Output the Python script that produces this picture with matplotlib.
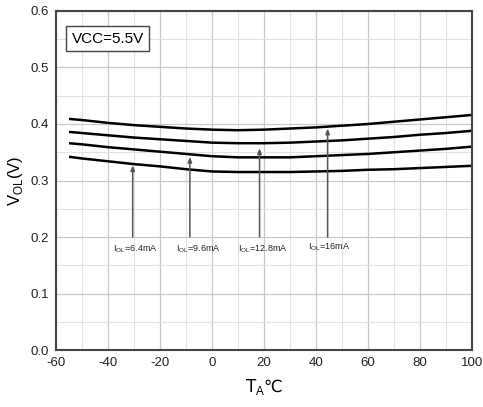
import matplotlib
matplotlib.use("Agg")
import matplotlib.pyplot as plt
from matplotlib.ticker import MultipleLocator

plt.rcParams['font.family'] = ['Liberation Sans', 'DejaVu Sans']
plt.rcParams['mathtext.fontset'] = 'custom'
plt.rcParams['mathtext.rm'] = 'Liberation Sans'
plt.rcParams['axes.unicode_minus'] = False

temps = [-55, -50, -40, -30, -20, -10, 0, 10, 20, 30, 40, 50, 60, 70, 80, 90, 100]
v_16 = [0.409, 0.407, 0.402, 0.398, 0.395, 0.392, 0.390, 0.389, 0.390, 0.392, 0.394, 0.397, 0.400, 0.404, 0.408, 0.412, 0.416]
v_128 = [0.386, 0.384, 0.380, 0.376, 0.373, 0.370, 0.367, 0.366, 0.366, 0.367, 0.369, 0.371, 0.374, 0.377, 0.381, 0.384, 0.388]
v_96 = [0.366, 0.364, 0.359, 0.355, 0.351, 0.347, 0.343, 0.341, 0.341, 0.341, 0.343, 0.345, 0.347, 0.350, 0.353, 0.356, 0.360]
v_64 = [0.342, 0.339, 0.334, 0.329, 0.325, 0.320, 0.316, 0.315, 0.315, 0.315, 0.316, 0.317, 0.319, 0.320, 0.322, 0.324, 0.326]

labels = ['6.4mA', '9.6mA', '12.8mA', '16mA']
arrow_x = [-30.5, -8.5, 18.3, 44.5]
arrow_tip = [0.327, 0.342, 0.357, 0.392]
label_x = [-38, -14, 10, 37]
label_y = [0.180, 0.180, 0.180, 0.182]

fig = plt.figure(figsize=(4.83, 4.07), dpi=100)
ax = fig.add_axes([0.116, 0.140, 0.861, 0.833])

for v in (v_16, v_128, v_96, v_64):
    ax.plot(temps, v, color='black', lw=1.8, solid_capstyle='butt')

for ax_x, tip, lab, lx, ly in zip(arrow_x, arrow_tip, labels, label_x, label_y):
    ax.annotate('', xy=(ax_x, tip), xytext=(ax_x, 0.2),
                arrowprops=dict(arrowstyle='-|>,head_width=0.12,head_length=0.3',
                                color='#555555', lw=1.1, shrinkA=0, shrinkB=0))
    ax.text(lx, ly, r'I$_{\mathrm{OL}}$=' + lab, fontsize=6.5, color='#222222',
            ha='left', va='center')

ax.set_xlim(-60, 100)
ax.set_ylim(0.0, 0.6)
ax.xaxis.set_major_locator(MultipleLocator(20))
ax.xaxis.set_minor_locator(MultipleLocator(10))
ax.yaxis.set_major_locator(MultipleLocator(0.1))
ax.yaxis.set_minor_locator(MultipleLocator(0.05))
ax.yaxis.set_major_formatter(plt.FuncFormatter(lambda v, p: f'{v:.1f}'))
ax.grid(which='major', color='#c8c8c8', lw=0.9)
ax.grid(which='minor', color='#e2e2e2', lw=0.8)
ax.set_axisbelow(True)
ax.tick_params(which='both', length=0, labelsize=9.5, pad=5, colors='#222222')
for s in ax.spines.values():
    s.set_color('#444444')
    s.set_linewidth(1.5)

ax.set_xlabel(r'T$_{\mathrm{A}}$℃', fontsize=12, labelpad=6, fontfamily='DejaVu Sans')
ax.set_ylabel(r'V$_{\mathrm{OL}}$(V)', fontsize=12, labelpad=4)

ax.text(-54, 0.551, 'VCC=5.5V', fontsize=11, ha='left', va='center',
        bbox=dict(boxstyle='square,pad=0.35', fc='white', ec='#444444', lw=1.0))

fig.savefig('out.png', dpi=100)
